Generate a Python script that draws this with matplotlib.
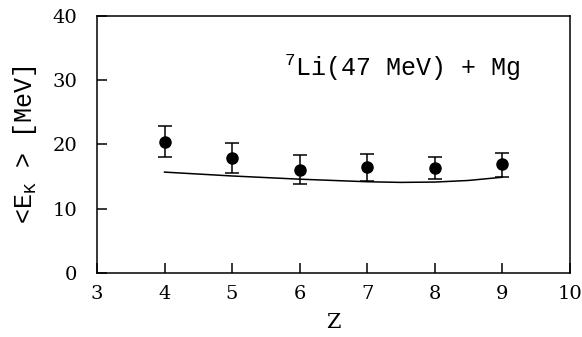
import numpy as np
import matplotlib.pyplot as plt

# mean kinetic energy of fragments vs charge, 7Li(47 MeV) + Mg
z = [4, 5, 6, 7, 8, 9]
ek_mean = [20.4, 17.9, 16.1, 16.5, 16.4, 16.9]
ek_lo = [18.1, 15.6, 13.9, 14.3, 14.7, 15.0]
ek_hi = [22.9, 20.3, 18.4, 18.5, 18.1, 18.6]

# calculation (solid line)
z_calc = [4, 4.5, 5, 5.5, 6, 6.5, 7, 7.5, 8, 8.5, 9]
ek_calc = [15.7, 15.4, 15.1, 14.85, 14.6, 14.4, 14.2, 14.1, 14.15, 14.4, 14.9]

ek_mean = np.array(ek_mean)
yerr = [ek_mean - np.array(ek_lo), np.array(ek_hi) - ek_mean]

fig = plt.figure(figsize=(5.82, 3.37), dpi=100)
ax = fig.add_axes([0.1667, 0.19, 0.812, 0.7625])

ax.plot(z_calc, ek_calc, color="black", lw=1.1)
ax.errorbar(z, ek_mean, yerr=yerr, fmt="o", color="black", ms=8,
            elinewidth=1.1, capsize=5, capthick=1.1)

ax.set_xlim(3, 10)
ax.set_ylim(0, 40)
ax.set_xticks(range(3, 11))
ax.set_yticks(range(0, 41, 10))

for s in ax.spines.values():
    s.set_linewidth(1.1)
ax.tick_params(direction="in", length=7, width=1.1, top=False, right=False,
               labelsize=14)
ax.tick_params(axis="y", pad=14)
ax.tick_params(axis="x", pad=9)
for lab in ax.get_xticklabels() + ax.get_yticklabels():
    lab.set_family("DejaVu Serif")

ax.set_xlabel("Z", family="DejaVu Serif", fontsize=15, labelpad=7)
ax.set_ylabel(r"<E$_\mathregular{K}$ > [MeV]", family="Liberation Mono",
              fontsize=18, labelpad=10)

ax.text(0.395, 0.80, r"$^\mathregular{7}$Li(47 MeV) + Mg", transform=ax.transAxes,
        family="Liberation Mono", fontsize=18, va="center", ha="left")

fig.savefig("out.png", dpi=100)
